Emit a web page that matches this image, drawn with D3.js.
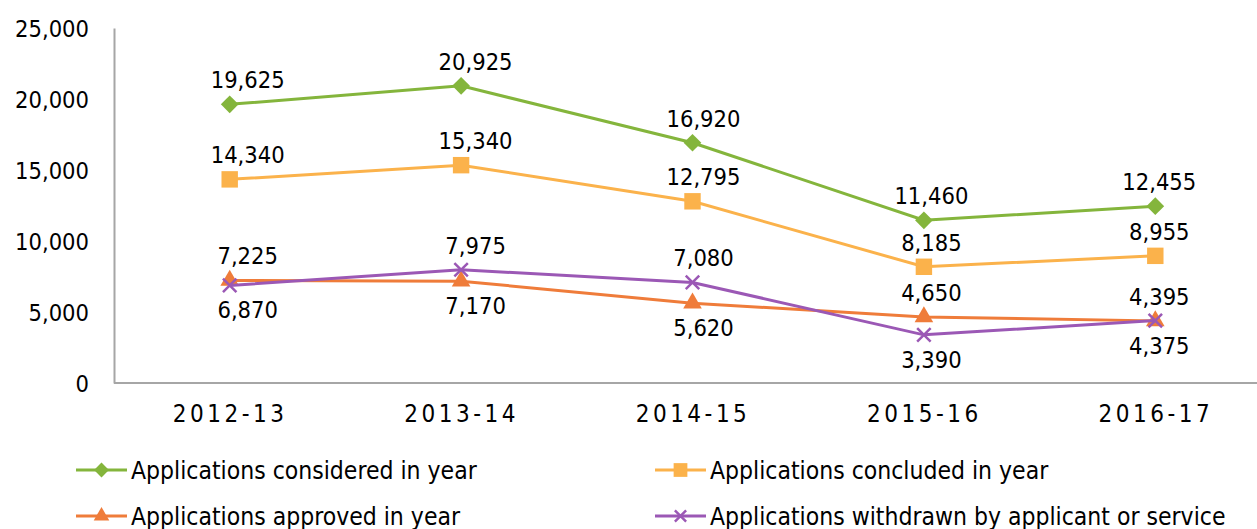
<!DOCTYPE html>
<html>
<head>
<meta charset="utf-8">
<script src="https://cdn.jsdelivr.net/npm/d3@7"></script>
<style>
	body { margin: 0; background: #fff; }
	svg text { font-family: "DejaVu Sans Condensed", "DejaVu Sans", sans-serif; font-stretch: condensed; fill: #000; }
</style>
</head>
<body>
<svg id="chart" width="1257" height="529"></svg>
<script>
const years = ["2012-13", "2013-14", "2014-15", "2015-16", "2016-17"];
const yTicks = [0, 5000, 10000, 15000, 20000, 25000];

const considered = [19625, 20925, 16920, 11460, 12455];
const concluded = [14340, 15340, 12795, 8185, 8955];
const approved = [7225, 7170, 5620, 4650, 4375];
const withdrawn = [6870, 7975, 7080, 3390, 4395];

// label placement per point: 1 = above, -1 = below
const approvedPos = [1, -1, -1, 1, -1];
const withdrawnPos = [-1, 1, 1, -1, 1];

const series = [
	{name: "Applications considered in year", values: considered, color: "#84b53c", symbol: d3.symbolDiamond2, size: 200, pos: [1, 1, 1, 1, 1]},
	{name: "Applications concluded in year", values: concluded, color: "#fbb24b", symbol: d3.symbolSquare, size: 270, pos: [1, 1, 1, 1, 1]},
	{name: "Applications approved in year", values: approved, color: "#ef7c3a", symbol: d3.symbolTriangle, size: 150, pos: approvedPos},
	{name: "Applications withdrawn by applicant or service", values: withdrawn, color: "#9b58b5", symbol: d3.symbolX, size: 120, pos: withdrawnPos}
];

const svg = d3.select("#chart");
const margin = {left: 114, top: 28, bottom: 383, right: 1271};

const x = d3.scalePoint()
	.domain(years)
	.range([margin.left, margin.right])
	.padding(0.5);

const y = d3.scaleLinear()
	.domain([0, 25000])
	.range([margin.bottom, margin.top]);

const fmt = d3.format(",");

// axes
const gY = svg.append("g")
	.attr("transform", `translate(${margin.left},0)`)
	.call(d3.axisLeft(y).tickValues(yTicks).tickFormat(fmt).tickSize(0).tickPadding(25));
gY.select(".domain").attr("stroke", "#a6a6a6").attr("stroke-width", 2);
gY.selectAll("text").style("font-size", "23.5px").attr("dy", "0.36em");

const gX = svg.append("g")
	.attr("transform", `translate(0,${margin.bottom})`)
	.call(d3.axisBottom(x).tickSize(0).tickPadding(22));
gX.select(".domain").attr("d", `M${margin.left},0H1257`).attr("stroke", "#a6a6a6").attr("stroke-width", 2);
gX.selectAll("text").style("font-size", "24px").style("letter-spacing", "3.5px").attr("dy", "0.71em");

// lines, markers, labels
const line = d3.line()
	.x((d, i) => x(years[i]))
	.y(d => y(d));

series.forEach(s => {
	const g = svg.append("g");

	g.append("path")
		.datum(s.values)
		.attr("fill", "none")
		.attr("stroke", s.color)
		.attr("stroke-width", 3)
		.attr("d", line);

	g.selectAll("path.marker")
		.data(s.values)
		.enter()
		.append("path")
		.attr("class", "marker")
		.attr("transform", (d, i) => `translate(${x(years[i])},${y(d)})`)
		.attr("d", d3.symbol(s.symbol, s.size))
		.attr("fill", s.symbol === d3.symbolX ? "none" : s.color)
		.attr("stroke", s.symbol === d3.symbolX ? s.color : "none")
		.attr("stroke-width", 2.5);

	g.selectAll("text.label")
		.data(s.values)
		.enter()
		.append("text")
		.attr("class", "label")
		.attr("x", (d, i) => x(years[i]) + 18 - 3.5 * i)
		.attr("y", (d, i) => y(d) + (s.pos[i] > 0 ? -16 : 33))
		.attr("text-anchor", "middle")
		.style("font-size", "23.5px")
		.text(d => fmt(d));
});

// legend
const legendItems = [
	{s: series[0], lx: 76, ly: 470},
	{s: series[1], lx: 655, ly: 470},
	{s: series[2], lx: 76, ly: 516},
	{s: series[3], lx: 655, ly: 516}
];

const legend = svg.append("g")
	.selectAll("g")
	.data(legendItems)
	.enter()
	.append("g")
	.attr("transform", d => `translate(${d.lx},${d.ly})`);

legend.append("line")
	.attr("x1", 0).attr("x2", 51)
	.attr("stroke", d => d.s.color)
	.attr("stroke-width", 3);

legend.append("path")
	.attr("transform", "translate(25.5,0)")
	.attr("d", d => d3.symbol(d.s.symbol, d.s.size * 0.7)())
	.attr("fill", d => d.s.symbol === d3.symbolX ? "none" : d.s.color)
	.attr("stroke", d => d.s.symbol === d3.symbolX ? d.s.color : "none")
	.attr("stroke-width", 2.5);

legend.append("text")
	.attr("x", 55)
	.attr("dy", "0.36em")
	.style("font-size", "24.5px")
	.text(d => d.s.name);
</script>
</body>
</html>
